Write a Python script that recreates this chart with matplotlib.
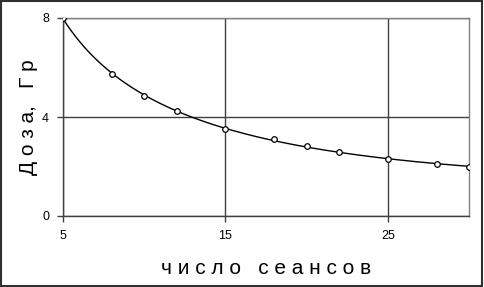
import numpy as np
import matplotlib
matplotlib.use("Agg")
import matplotlib.pyplot as plt
from matplotlib.patches import Rectangle

plt.rcParams['font.family'] = ['Liberation Sans', 'DejaVu Sans']

# число сеансов / доза
sessions = [5, 8, 10, 12, 15, 18, 20, 22, 25, 28, 30]
dose = [8.0, 5.74, 4.85, 4.24, 3.52, 3.11, 2.83, 2.59, 2.3, 2.1, 1.98]
x_ticks = [5, 15, 25]
y_ticks = [0, 4, 8]

# trend line: quadratic in ln(x), fitted to the points
coef = np.polyfit(np.log(sessions), dose, 2)
xs = np.linspace(min(sessions), max(sessions), 200)
ys = np.polyval(coef, np.log(xs))

fig = plt.figure(figsize=(4.84, 2.87), dpi=100)
ax = fig.add_axes([63 / 484, 71 / 287, 406 / 484, 198 / 287])

ax.plot(xs, ys, color='black', lw=1.0, zorder=3)
ax.plot(sessions, dose, 'o', ms=4, mfc='white', mec='black', mew=0.9, zorder=4)

ax.set_xlim(5, 30)
ax.set_ylim(0, 8)
ax.set_xticks(x_ticks)
ax.set_yticks(y_ticks)
ax.grid(True, color='#404040', lw=1.0)
ax.set_axisbelow(True)
for s in ax.spines.values():
    s.set_color('#808080')
    s.set_linewidth(1.0)
ax.spines['left'].set_color('#404040')
ax.spines['bottom'].set_color('#404040')
ax.tick_params(direction='out', length=4, width=1, color='#404040',
               labelsize=9, pad=6)

ax.set_xlabel('ч и с л о   с е а н с о в', fontsize=15, labelpad=12)
ax.set_ylabel('Д о з а,   Г р', fontsize=15, labelpad=3)

fig.patches.append(Rectangle((0.002, 0.003), 0.994, 0.993, transform=fig.transFigure,
                             fill=False, edgecolor='#303030', lw=1.5))

fig.savefig('out.png', dpi=100)
